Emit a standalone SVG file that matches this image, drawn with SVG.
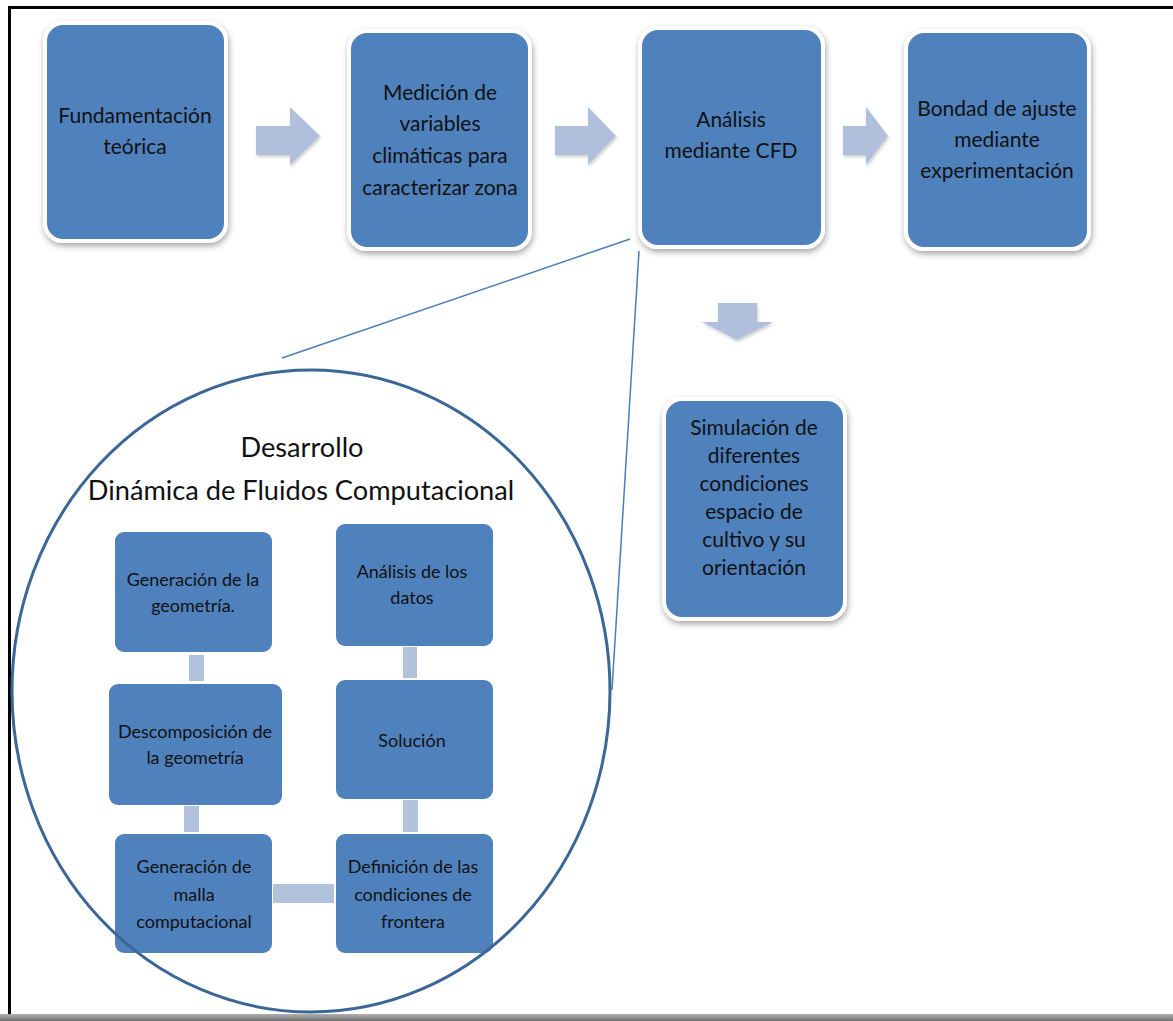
<svg xmlns="http://www.w3.org/2000/svg" width="1173" height="1021" viewBox="0 0 1173 1021">
<defs>
<filter id="sh" x="-20%" y="-20%" width="140%" height="140%">
<feDropShadow dx="1" dy="3" stdDeviation="3" flood-color="#000" flood-opacity="0.35"/>
</filter>
<filter id="ash" x="-20%" y="-20%" width="140%" height="140%">
<feDropShadow dx="1" dy="2" stdDeviation="1.5" flood-color="#000" flood-opacity="0.2"/>
</filter>
<linearGradient id="bar" x1="0" y1="0" x2="0" y2="1">
<stop offset="0" stop-color="#b0b0b0"/>
<stop offset="1" stop-color="#707070"/>
</linearGradient>
</defs>
<style>
.big{fill:#4f81bd;stroke:#fff;stroke-width:4;filter:url(#sh)}
.small{fill:#4f81bd}
.arr{fill:#b0c0dc;filter:url(#ash)}
.con{fill:#b3c2dc}
text{font-family:Lato,"Liberation Sans",sans-serif;fill:#111;text-anchor:middle}
.t1{font-size:21px}
.t2{font-size:18px}
.tt{font-size:27.2px}
.zl{stroke:#4a7ebb;stroke-width:1.5;fill:none}
</style>
<rect x="0" y="0" width="1173" height="1021" fill="#fff"/>
<!-- frame -->
<path d="M9.5 1015 V7.5 H1173" fill="none" stroke="#000" stroke-width="3"/>
<rect x="0" y="1014" width="1173" height="7" fill="url(#bar)"/>

<g id="connectors">
<path class="arr" d="M256 126 H290 V107 L320 136 L290 165 V155 H256 Z"/>
<path class="arr" d="M555 126 H588 V107 L616 136 L588 165 V155 H555 Z"/>
<path class="arr" d="M843 126 H866 V107 L888 136 L866 165 V155 H843 Z"/>
<path class="arr" d="M718 303 H757 V322 H773 L737 340 L702 322 H718 Z"/>
<line class="zl" x1="282" y1="358" x2="630" y2="239"/>
<line class="zl" x1="639" y1="251" x2="612" y2="690"/>
<rect class="con" x="189" y="655" width="15" height="26"/>
<rect class="con" x="184" y="806" width="15" height="26"/>
<rect class="con" x="403" y="647" width="14" height="31"/>
<rect class="con" x="403" y="800" width="15" height="32"/>
<rect class="con" x="273" y="884" width="61" height="19"/>
</g>

<g id="n1"><rect class="big" x="45" y="23" width="181" height="218" rx="18"/>
<text class="t1" x="135" y="123">Fundamentación</text><text class="t1" x="135" y="154">teórica</text></g>
<g id="n2"><rect class="big" x="349" y="31" width="181" height="218" rx="18"/>
<text class="t1" x="440" y="100">Medición de</text><text class="t1" x="440" y="131">variables</text><text class="t1" x="440" y="163">climáticas para</text><text class="t1" x="440" y="195">caracterizar zona</text></g>
<g id="n3"><rect class="big" x="640" y="28" width="183" height="219" rx="18"/>
<text class="t1" x="731" y="127">Análisis</text><text class="t1" x="731" y="158">mediante CFD</text></g>
<g id="n4"><rect class="big" x="906" y="31" width="183" height="218" rx="18"/>
<text class="t1" x="997" y="116">Bondad de ajuste</text><text class="t1" x="997" y="147">mediante</text><text class="t1" x="997" y="178">experimentación</text></g>
<g id="n5"><rect class="big" x="664" y="399" width="181" height="220" rx="18"/>
<text class="t1" x="754" y="435">Simulación de</text><text class="t1" x="754" y="463">diferentes</text><text class="t1" x="754" y="491">condiciones</text><text class="t1" x="754" y="519">espacio de</text><text class="t1" x="754" y="547">cultivo y su</text><text class="t1" x="754" y="575">orientación</text></g>

<g id="title"><text class="tt" x="302" y="457">Desarrollo</text><text class="tt" x="301" y="500">Dinámica de Fluidos Computacional</text></g>

<g id="c1"><rect class="small" x="115" y="532" width="157" height="120" rx="9"/>
<text class="t2" x="193" y="586">Generación de la</text><text class="t2" x="193" y="612">geometría.</text></g>
<g id="c2"><rect class="small" x="109" y="684" width="173" height="121" rx="9"/>
<text class="t2" x="195" y="738">Descomposición de</text><text class="t2" x="195" y="764">la geometría</text></g>
<g id="c3"><rect class="small" x="115" y="834" width="157" height="119" rx="9"/>
<text class="t2" x="194" y="873">Generación de</text><text class="t2" x="194" y="901">malla</text><text class="t2" x="194" y="928">computacional</text></g>
<g id="c4"><rect class="small" x="336" y="834" width="157" height="119" rx="9"/>
<text class="t2" x="413" y="873">Definición de las</text><text class="t2" x="413" y="901">condiciones de</text><text class="t2" x="413" y="928">frontera</text></g>
<g id="c5"><rect class="small" x="336" y="680" width="157" height="119" rx="9"/>
<text class="t2" x="412" y="747">Solución</text></g>
<g id="c6"><rect class="small" x="336" y="524" width="157" height="122" rx="9"/>
<text class="t2" x="412" y="578">Análisis de los</text><text class="t2" x="412" y="604">datos</text></g>

<ellipse id="zoom-circle" cx="311" cy="691" rx="299" ry="321" fill="none" stroke="#3b6696" stroke-width="3"/>
</svg>
